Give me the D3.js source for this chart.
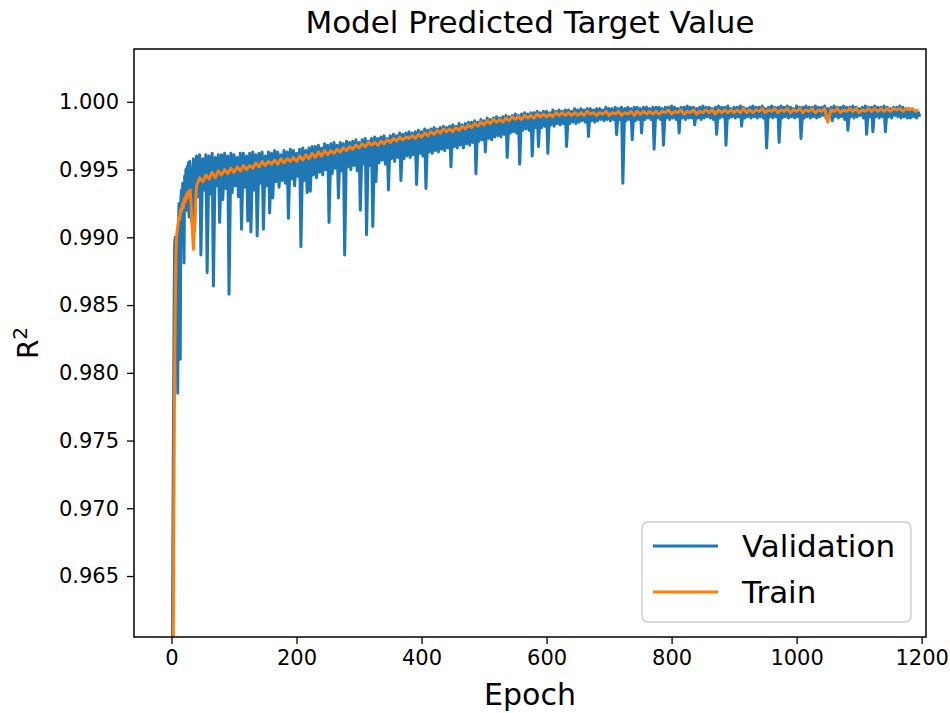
<!DOCTYPE html>
<meta charset="utf-8" />
<style>
  body { margin: 0; background: #fff; }
  text { font-family: "DejaVu Sans", sans-serif; fill: #000; }
</style>
<svg width="950" height="713"></svg>
<script src="https://d3js.org/d3.v7.min.js"></script>
<script>
  // validation R^2, one value per epoch for epochs 0-29
  var valEarly = [0.900, 0.955, 0.966, 0.975, 0.984, 0.9895, 0.9900, 0.9872, 0.9895, 0.9850,
    0.9785, 0.9905, 0.9925, 0.9860, 0.9810, 0.9928, 0.9935, 0.9900, 0.9940, 0.9910,
    0.9881, 0.9945, 0.9930, 0.9950, 0.9920, 0.9952, 0.9935, 0.9955, 0.9915, 0.9956];

  // validation R^2 read at epochs 30, 35, 40 ... 1195 (upper side of the band)
  var valHigh = [
    0.9950, 0.9958, 0.9960, 0.9961, 0.9958, 0.9961, 0.9960, 0.9962, 0.9959, 0.9961,
    0.9961, 0.9962, 0.9960, 0.9962, 0.9961, 0.9959, 0.9962, 0.9962, 0.9960, 0.9962,
    0.9963, 0.9961, 0.9962, 0.9963, 0.9960, 0.9963, 0.9962, 0.9964, 0.9963, 0.9961,
    0.9964, 0.9963, 0.9965, 0.9964, 0.9962, 0.9965, 0.9966, 0.9964, 0.9966, 0.9967,
    0.9967, 0.9968, 0.9966, 0.9969, 0.9968, 0.9969, 0.9970, 0.9968, 0.9970, 0.9969,
    0.9971, 0.9970, 0.9971, 0.9972, 0.9970, 0.9972, 0.9973, 0.9971, 0.9973, 0.9974,
    0.9973, 0.9974, 0.9975, 0.9973, 0.9975, 0.9976, 0.9975, 0.9977, 0.9976, 0.9977,
    0.9978, 0.9977, 0.9978, 0.9979, 0.9978, 0.9980, 0.9979, 0.9980, 0.9981, 0.9980,
    0.9981, 0.9982, 0.9981, 0.9982, 0.9983, 0.9982, 0.9984, 0.9983, 0.9984, 0.9985,
    0.9985, 0.9986, 0.9985, 0.9987, 0.9986, 0.9988, 0.9987, 0.9988, 0.9989, 0.9988,
    0.9989, 0.9990, 0.9989, 0.9990, 0.9991, 0.9990, 0.9991, 0.9992, 0.9991, 0.9992,
    0.9992, 0.9993, 0.9992, 0.9993, 0.9993, 0.9992, 0.9994, 0.9993, 0.9994, 0.9993,
    0.9994, 0.9994, 0.9993, 0.9995, 0.9994, 0.9995, 0.9994, 0.9995, 0.9995, 0.9994,
    0.9995, 0.9995, 0.9994, 0.9996, 0.9995, 0.9995, 0.9996, 0.9995, 0.9996, 0.9995,
    0.9996, 0.9995, 0.9996, 0.9996, 0.9995, 0.9996, 0.9996, 0.9995, 0.9996, 0.9996,
    0.9996, 0.9995, 0.9996, 0.9996, 0.9997, 0.9996, 0.9995, 0.9996, 0.9996, 0.9997,
    0.9996, 0.9996, 0.9995, 0.9996, 0.9997, 0.9996, 0.9996, 0.9995, 0.9996, 0.9997,
    0.9996, 0.9996, 0.9997, 0.9995, 0.9996, 0.9996, 0.9997, 0.9996, 0.9995, 0.9996,
    0.9997, 0.9996, 0.9996, 0.9997, 0.9995, 0.9996, 0.9997, 0.9996, 0.9996, 0.9997,
    0.9996, 0.9997, 0.9996, 0.9995, 0.9997, 0.9996, 0.9996, 0.9997, 0.9996, 0.9996,
    0.9997, 0.9996, 0.9996, 0.9997, 0.9995, 0.9996, 0.9997, 0.9996, 0.9996, 0.9997,
    0.9996, 0.9996, 0.9997, 0.9996, 0.9995, 0.9996, 0.9997, 0.9996, 0.9996, 0.9997,
    0.9996, 0.9996, 0.9997, 0.9996, 0.9995, 0.9996, 0.9996, 0.9997, 0.9996, 0.9995,
    0.9995, 0.9994, 0.9993, 0.9992];

  // validation R^2 read at epochs 32, 37, 42 ... 1197 (lower side of the band, with the dips)
  var valLow = [
    0.9912, 0.9905, 0.9930, 0.9887, 0.9935, 0.9874, 0.9932, 0.9864, 0.9938, 0.9911,
    0.9928, 0.9936, 0.9858, 0.9933, 0.9938, 0.9930, 0.9906, 0.9937, 0.9912, 0.9904,
    0.9935, 0.9901, 0.9940, 0.9906, 0.9938, 0.9918, 0.9929, 0.9941, 0.9937, 0.9942,
    0.9940, 0.9914, 0.9943, 0.9938, 0.9945, 0.9893, 0.9942, 0.9933, 0.9934, 0.9946,
    0.9944, 0.9948, 0.9946, 0.9950, 0.9911, 0.9947, 0.9951, 0.9929, 0.9949, 0.9887,
    0.9952, 0.9950, 0.9953, 0.9949, 0.9920, 0.9954, 0.9902, 0.9953, 0.9908, 0.9941,
    0.9955, 0.9957, 0.9954, 0.9935, 0.9958, 0.9956, 0.9959, 0.9942, 0.9958, 0.9960,
    0.9959, 0.9961, 0.9939, 0.9962, 0.9960, 0.9936, 0.9963, 0.9962, 0.9964, 0.9963,
    0.9965, 0.9964, 0.9966, 0.9952, 0.9967, 0.9966, 0.9968, 0.9966, 0.9969, 0.9968,
    0.9970, 0.9947, 0.9971, 0.9972, 0.9963, 0.9973, 0.9972, 0.9974, 0.9975, 0.9974,
    0.9976, 0.9959, 0.9977, 0.9978, 0.9977, 0.9954, 0.9979, 0.9980, 0.9979, 0.9960,
    0.9981, 0.9967, 0.9981, 0.9982, 0.9962, 0.9983, 0.9982, 0.9984, 0.9983, 0.9984,
    0.9967, 0.9984, 0.9985, 0.9984, 0.9985, 0.9986, 0.9985, 0.99745, 0.9986, 0.9985,
    0.9986, 0.9987, 0.9986, 0.9987, 0.9986, 0.9987, 0.99758, 0.9987, 0.9940, 0.9986,
    0.9987, 0.9972, 0.9986, 0.9987, 0.9977, 0.9987, 0.9988, 0.9987, 0.9965, 0.9988,
    0.9987, 0.9968, 0.9988, 0.9987, 0.9988, 0.9987, 0.9977, 0.9988, 0.9987, 0.9988,
    0.9988, 0.9983, 0.9988, 0.9987, 0.9988, 0.9989, 0.9988, 0.9987, 0.9976, 0.9988,
    0.9989, 0.9968, 0.9988, 0.9989, 0.9988, 0.9989, 0.9982, 0.9988, 0.9989, 0.9988,
    0.9989, 0.9988, 0.9989, 0.9988, 0.9966, 0.9989, 0.9988, 0.9989, 0.9970, 0.9988,
    0.9989, 0.9988, 0.9989, 0.9988, 0.9989, 0.9973, 0.9988, 0.9989, 0.9988, 0.9989,
    0.9988, 0.9989, 0.9990, 0.9988, 0.9989, 0.9986, 0.9989, 0.9988, 0.9989, 0.9987,
    0.9979, 0.9989, 0.9988, 0.9989, 0.9990, 0.9988, 0.9976, 0.9989, 0.9978, 0.9989,
    0.9988, 0.9989, 0.9978, 0.9989, 0.9988, 0.9990, 0.9989, 0.9988, 0.9989, 0.9988,
    0.9988, 0.9989, 0.9988, 0.9989];

  // train R^2, one value per epoch for epochs 0-29
  var trainEarly = [0.800, 0.900, 0.945, 0.962, 0.972, 0.980, 0.985, 0.9885, 0.9900, 0.9905,
    0.9908, 0.9912, 0.9915, 0.9913, 0.9918, 0.9921, 0.9919, 0.9923, 0.9925, 0.9922,
    0.9927, 0.9929, 0.9926, 0.9930, 0.9932, 0.9929, 0.9933, 0.9931, 0.9934, 0.9933];

  // train R^2 read at epochs 30, 35, 40 ... 1195
  var trainMain = [
    0.9935, 0.9891, 0.9938, 0.9944, 0.9941, 0.9946, 0.9943, 0.9948, 0.9944, 0.9949,
    0.9946, 0.9950, 0.9947, 0.9951, 0.9948, 0.9952, 0.9949, 0.9953, 0.9950, 0.9953,
    0.9951, 0.9955, 0.9952, 0.9956, 0.9953, 0.9956, 0.9954, 0.9957, 0.9954, 0.9958,
    0.9955, 0.9958, 0.9956, 0.9959, 0.9956, 0.9960, 0.9957, 0.9961, 0.9958, 0.9962,
    0.9959, 0.9963, 0.9960, 0.9964, 0.9961, 0.9964, 0.9962, 0.9965, 0.9963, 0.9966,
    0.9964, 0.9967, 0.9965, 0.9968, 0.9966, 0.9969, 0.9967, 0.9970, 0.9968, 0.9970,
    0.9968, 0.9971, 0.9969, 0.9972, 0.9970, 0.9973, 0.9971, 0.9974, 0.9972, 0.9974,
    0.9973, 0.9975, 0.9973, 0.9976, 0.9974, 0.9977, 0.9975, 0.9978, 0.9976, 0.9979,
    0.9977, 0.9980, 0.9978, 0.9980, 0.9978, 0.9981, 0.9979, 0.9982, 0.9980, 0.9983,
    0.9981, 0.9984, 0.9982, 0.9985, 0.9983, 0.9986, 0.9984, 0.9987, 0.9985, 0.9987,
    0.9985, 0.9988, 0.9986, 0.9989, 0.9987, 0.9989, 0.9987, 0.9990, 0.9988, 0.9990,
    0.9988, 0.9991, 0.9989, 0.9991, 0.9989, 0.9991, 0.9989, 0.9992, 0.9990, 0.9992,
    0.9990, 0.9992, 0.9990, 0.9992, 0.9990, 0.9992, 0.9990, 0.9993, 0.9991, 0.9992,
    0.9990, 0.9992, 0.9991, 0.9993, 0.9990, 0.9992, 0.9991, 0.9993, 0.9990, 0.9992,
    0.9991, 0.9993, 0.9990, 0.9993, 0.9991, 0.9993, 0.9991, 0.9993, 0.9991, 0.9993,
    0.9991, 0.9993, 0.9992, 0.9994, 0.9991, 0.9993, 0.9992, 0.9994, 0.9991, 0.9993,
    0.9992, 0.9994, 0.9991, 0.9993, 0.9992, 0.9994, 0.9992, 0.9994, 0.9991, 0.9994,
    0.9992, 0.9994, 0.9992, 0.9994, 0.9992, 0.9994, 0.9992, 0.9995, 0.9992, 0.9994,
    0.9992, 0.9994, 0.9993, 0.9995, 0.9992, 0.9994, 0.9993, 0.9995, 0.9992, 0.9994,
    0.9993, 0.9995, 0.9992, 0.9994, 0.9993, 0.9995, 0.9992, 0.9994, 0.9993, 0.9995,
    0.9992, 0.9994, 0.9993, 0.9995, 0.9985, 0.9994, 0.9993, 0.9995, 0.9992, 0.9994,
    0.9993, 0.9995, 0.9993, 0.9995, 0.9992, 0.9994, 0.9993, 0.9995, 0.9993, 0.9995,
    0.9993, 0.9995, 0.9993, 0.9995, 0.9993, 0.9995, 0.9994, 0.9995, 0.9993, 0.9995,
    0.9994, 0.9995, 0.9993, 0.9994];

  var xTicks = [0, 200, 400, 600, 800, 1000, 1200];
  var yTicks = [0.965, 0.970, 0.975, 0.980, 0.985, 0.990, 0.995, 1.000];
  var seriesNames = ["Validation", "Train"];
  var seriesColors = ["#1f77b4", "#ff7f0e"];

  // epochs for the 5-epoch readings
  function every5(start) { return function(v, i) { return { e: start + i * 5, v: v }; }; }
  function perEpoch(v, i) { return { e: i, v: v }; }

  var valPts = valEarly.map(perEpoch)
    .concat(valHigh.map(every5(30)), valLow.map(every5(32)))
    .sort(function(a, b) { return a.e - b.e; });
  var trainPts = trainEarly.map(perEpoch).concat(trainMain.map(every5(30)));
  var series = [valPts, trainPts];

  var svg = d3.select("svg");
  // plot box ("top" is a window global, hence the p-prefix)
  var pLeft = 134, pRight = 926, pTop = 49, pBottom = 637;

  var x = d3.scaleLinear().domain([-60, 1207]).range([pLeft, pRight]);
  var y = d3.scaleLinear().domain([0.9605, 1.0039]).range([pBottom, pTop]);

  svg.append("clipPath").attr("id", "plot")
    .append("rect")
    .attr("x", pLeft).attr("y", pTop)
    .attr("width", pRight - pLeft).attr("height", pBottom - pTop);

  var line = d3.line()
    .x(function(d) { return x(d.e); })
    .y(function(d) { return y(d.v); });

  svg.append("g")
    .attr("clip-path", "url(#plot)")
    .selectAll("path")
    .data(series)
    .enter()
    .append("path")
    .attr("d", line)
    .attr("fill", "none")
    .attr("stroke", function(d, i) { return seriesColors[i]; })
    .attr("stroke-width", 3)
    .attr("stroke-linejoin", "round");

  // axes
  var xAxis = svg.append("g")
    .attr("transform", "translate(0," + pBottom + ")")
    .call(d3.axisBottom(x).tickValues(xTicks).tickFormat(d3.format("d")).tickSize(7).tickPadding(6).tickSizeOuter(0));
  var yAxis = svg.append("g")
    .attr("transform", "translate(" + pLeft + ",0)")
    .call(d3.axisLeft(y).tickValues(yTicks).tickFormat(d3.format(".3f")).tickSize(7).tickPadding(8).tickSizeOuter(0));
  [xAxis, yAxis].forEach(function(a) {
    a.select(".domain").remove();
    a.selectAll("line").attr("stroke", "#000").attr("stroke-width", 1.3);
    a.selectAll("text").attr("font-size", 21).attr("font-family", "DejaVu Sans").attr("fill", "#000");
  });

  svg.append("rect")
    .attr("x", pLeft).attr("y", pTop)
    .attr("width", pRight - pLeft).attr("height", pBottom - pTop)
    .attr("fill", "none").attr("stroke", "#000").attr("stroke-width", 1.5);

  // titles
  svg.append("text")
    .attr("x", (pLeft + pRight) / 2).attr("y", 33)
    .attr("text-anchor", "middle").attr("font-size", 31)
    .text("Model Predicted Target Value");

  svg.append("text")
    .attr("x", (pLeft + pRight) / 2).attr("y", 705)
    .attr("text-anchor", "middle").attr("font-size", 30)
    .text("Epoch");

  var yl = svg.append("text")
    .attr("transform", "translate(38," + (pTop + pBottom) / 2 + ") rotate(-90)")
    .attr("text-anchor", "middle").attr("font-size", 28);
  yl.append("tspan").text("R");
  yl.append("tspan").attr("font-size", 20).attr("dy", -11).text("2");

  // legend
  var lg = svg.append("g");
  lg.append("rect")
    .attr("x", 642).attr("y", 522).attr("width", 269).attr("height", 100)
    .attr("rx", 6).attr("fill", "#fff").attr("fill-opacity", 0.8)
    .attr("stroke", "#cccccc").attr("stroke-width", 1.3);
  var items = lg.selectAll("g.item")
    .data(seriesNames)
    .enter()
    .append("g")
    .attr("transform", function(d, i) { return "translate(0," + (546 + i * 46) + ")"; });
  items.append("line")
    .attr("x1", 653).attr("x2", 718)
    .attr("stroke", function(d, i) { return seriesColors[i]; })
    .attr("stroke-width", 3);
  items.append("text")
    .attr("x", 742).attr("y", 11)
    .attr("font-size", 31)
    .text(function(d) { return d; });
</script>
